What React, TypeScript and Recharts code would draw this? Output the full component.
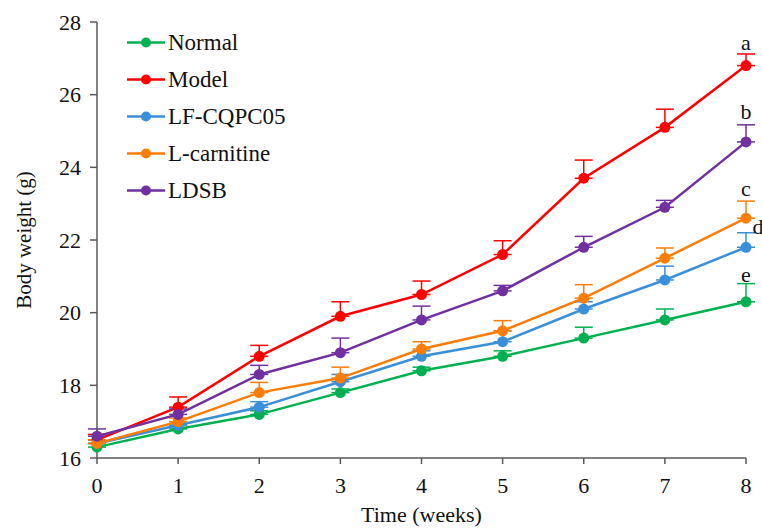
import React from 'react';
import { LineChart, Line, XAxis, YAxis, ErrorBar, Legend, LabelList } from 'recharts';

const weeks = [0, 1, 2, 3, 4, 5, 6, 7, 8];
const yTicks = [16, 18, 20, 22, 24, 26, 28];

const normal = [16.3, 16.8, 17.2, 17.8, 18.4, 18.8, 19.3, 19.8, 20.3];
const model = [16.5, 17.4, 18.8, 19.9, 20.5, 21.6, 23.7, 25.1, 26.8];
const lfcqpc05 = [16.4, 16.9, 17.4, 18.1, 18.8, 19.2, 20.1, 20.9, 21.8];
const lcarnitine = [16.4, 17.0, 17.8, 18.2, 19.0, 19.5, 20.4, 21.5, 22.6];
const ldsb = [16.6, 17.2, 18.3, 18.9, 19.8, 20.6, 21.8, 22.9, 24.7];

const normalErr = [0.1, 0.1, 0.1, 0.1, 0.1, 0.15, 0.3, 0.3, 0.5];
const modelErr = [0.15, 0.28, 0.3, 0.4, 0.37, 0.38, 0.5, 0.5, 0.32];
const lfErr = [0.1, 0.1, 0.15, 0.2, 0.15, 0.3, 0.2, 0.38, 0.4];
const lcErr = [0.1, 0.1, 0.28, 0.3, 0.2, 0.28, 0.37, 0.28, 0.47];
const ldsbErr = [0.2, 0.15, 0.25, 0.4, 0.38, 0.15, 0.3, 0.19, 0.47];

const seriesNames = ['Normal', 'Model', 'LF-CQPC05', 'L-carnitine', 'LDSB'];
const endLetters = ['e', 'a', 'd', 'c', 'b'];

const FONT = 'Liberation Serif, Times New Roman, serif';
const AXIS = '#595959';

const series = [
  { key: 'normal', name: seriesNames[0], values: normal, err: normalErr, color: '#00B050', letter: endLetters[0], ldx: 0, ldy: -27 },
  { key: 'model', name: seriesNames[1], values: model, err: modelErr, color: '#FF0000', letter: endLetters[1], ldx: 0, ldy: -23 },
  { key: 'lf', name: seriesNames[2], values: lfcqpc05, err: lfErr, color: '#3A8FD9', letter: endLetters[2], ldx: 12, ldy: -21 },
  { key: 'lc', name: seriesNames[3], values: lcarnitine, err: lcErr, color: '#FB7D07', letter: endLetters[3], ldx: 0, ldy: -30 },
  { key: 'ldsb', name: seriesNames[4], values: ldsb, err: ldsbErr, color: '#7030A0', letter: endLetters[4], ldx: 0, ldy: -30 },
];

const data = weeks.map((w, i) => {
  const row: any = { week: w };
  series.forEach((s) => {
    row[s.key] = s.values[i];
    row[s.key + 'Err'] = [0, s.err[i]];
  });
  return row;
});

const ROW = 37;

const LegendContent = () => (
  <svg width={260} height={ROW * series.length} style={{ display: 'block', overflow: 'visible' }}>
    {series.map((s, i) => {
      const cy = ROW / 2 + i * ROW;
      return (
        <g key={s.key}>
          <line x1={0} y1={cy} x2={38} y2={cy} stroke={s.color} strokeWidth={2.5} />
          <circle cx={19} cy={cy} r={5} fill={s.color} />
          <text
            x={41}
            y={cy}
            dominantBaseline="central"
            fontFamily={FONT}
            fontSize={23}
            fill="#111"
          >
            {s.name}
          </text>
        </g>
      );
    })}
  </svg>
);

const makeLetter = (s: any) => (props: any) => {
  const idx = props.index;
  if (idx !== weeks.length - 1) return <g />;
  const x = props.x ?? props.viewBox?.x;
  const y = props.y ?? props.viewBox?.y;
  return (
    <text
      x={x + s.ldx}
      y={y + s.ldy}
      textAnchor="middle"
      dominantBaseline="central"
      fontFamily={FONT}
      fontSize={22}
      fill="#111"
    >
      {s.letter}
    </text>
  );
};

export default function App() {
  return (
    <div style={{ position: 'absolute', left: 0, top: 0, width: 762, height: 528, background: '#fff' }}>
      <LineChart width={762} height={528} data={data} margin={{ top: 22, right: 16, bottom: 0, left: 0 }}>
        <XAxis
          dataKey="week"
          type="number"
          domain={[0, 8]}
          ticks={weeks}
          height={70}
          tickSize={6}
          tickMargin={13}
          axisLine={{ stroke: AXIS, strokeWidth: 1.5 }}
          tickLine={{ stroke: AXIS, strokeWidth: 1.5 }}
          tick={{ fontFamily: FONT, fontSize: 22, fill: '#111' }}
          label={{
            content: (p: any) => {
              const vb = p.viewBox;
              return (
                <text
                  x={vb.x + vb.width / 2}
                  y={vb.y + 64}
                  textAnchor="middle"
                  fontFamily={FONT}
                  fontSize={22}
                  fill="#111"
                >
                  Time (weeks)
                </text>
              );
            },
          }}
        />
        <YAxis
          type="number"
          domain={[16, 28]}
          ticks={yTicks}
          width={97}
          tickSize={7}
          tickMargin={9}
          axisLine={{ stroke: AXIS, strokeWidth: 1.5 }}
          tickLine={{ stroke: AXIS, strokeWidth: 1.5 }}
          tick={{ fontFamily: FONT, fontSize: 22, fill: '#111' }}
          label={{
            content: (p: any) => {
              const vb = p.viewBox;
              const cx = vb.x + 24;
              const cy = vb.y + vb.height / 2;
              return (
                <text
                  x={cx}
                  y={cy}
                  transform={`rotate(-90, ${cx}, ${cy})`}
                  textAnchor="middle"
                  dominantBaseline="central"
                  fontFamily={FONT}
                  fontSize={21}
                  fill="#111"
                >
                  Body weight (g)
                </text>
              );
            },
          }}
        />
        <Legend
          layout="vertical"
          align="center"
          verticalAlign="middle"
          content={<LegendContent />}
          wrapperStyle={{ position: 'absolute', left: 127, top: 23.5, width: 260, height: 190 }}
        />
        {series.map((s) => (
          <Line
            key={s.key}
            dataKey={s.key}
            name={s.name}
            stroke={s.color}
            strokeWidth={2.5}
            dot={{ r: 5.5, fill: s.color, stroke: s.color, strokeWidth: 0 }}
            activeDot={false}
            isAnimationActive={false}
          >
            <ErrorBar dataKey={s.key + 'Err'} direction="y" width={9} stroke={s.color} strokeWidth={1.5} />
            <LabelList dataKey={s.key} content={makeLetter(s)} />
          </Line>
        ))}
      </LineChart>
    </div>
  );
}
